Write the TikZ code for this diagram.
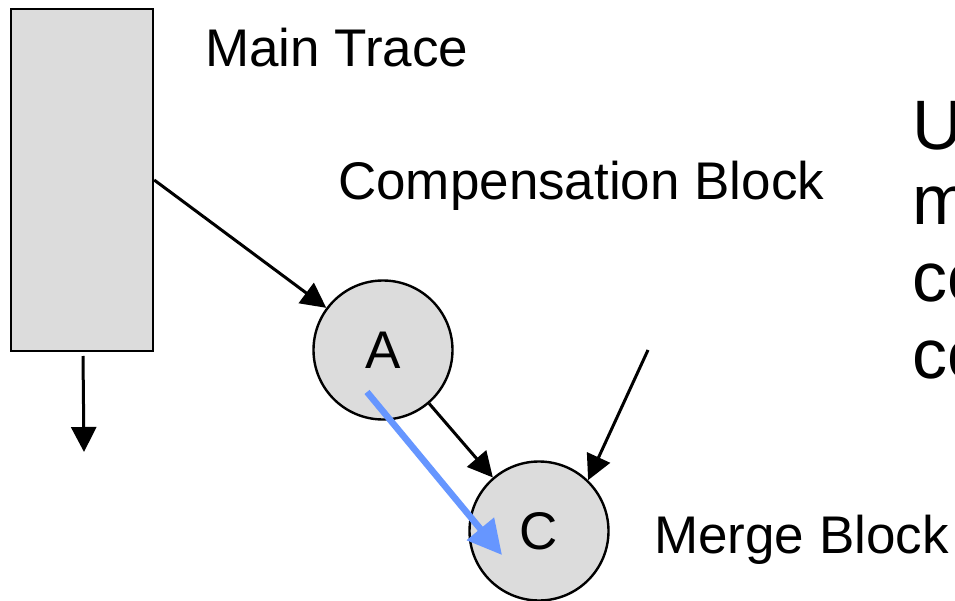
\documentclass[tikz,border=0pt]{standalone}
\usepackage{fontspec}
\setmainfont{Liberation Sans}
\usetikzlibrary{arrows.meta,calc}
\definecolor{boxgray}{RGB}{220,220,220}
\definecolor{blueline}{RGB}{102,150,255}
\begin{document}
\begin{tikzpicture}[x=1pt,y=-1pt,
  grayshape/.style={draw, fill=boxgray, line width=2.4pt, inner sep=0pt},
  circ/.style={grayshape, circle, minimum size=139pt, font=\fontsize{53}{60}\selectfont},
  arr/.style={line width=3pt, -{Triangle[length=25pt,width=25pt]}},
  lbl/.style={font=\fontsize{53}{60}\selectfont, inner sep=0pt, anchor=base west},
  big/.style={font=\fontsize{70}{76}\selectfont, inner sep=0pt, anchor=base west}]
\useasboundingbox (0,0) rectangle (955,601);
\clip (0,0) rectangle (955,601);
\node[grayshape, minimum width=142pt, minimum height=342pt] (trace) at (82,180) {};
\node[circ] (A) at (383,350) {A};
\node[circ] (C) at (539,531) {C};
\node[lbl] (lmain) at (205,67) {Main Trace};
\node[lbl] (lcomp) at (338,200) {Compensation Block};
\node[lbl] (lmerge) at (654,553) {Merge Block};
\node[big] (r1) at (912,150) {U};
\node[big] (r2) at (912,225) {m};
\node[big] (r3) at (912,302) {co};
\node[big] (r4) at (912,378) {co};
\coordinate (d0) at (83,356);
\coordinate (d1) at (84,452);
\coordinate (m) at (648,350);
\coordinate (bs) at (367,392);
\coordinate (be) at (502,555);
\draw[arr] (trace.east) -- (A);
\draw[arr] (d0) -- (d1);
\draw[arr] (A) -- (C);
\draw[arr] (m) -- (C.46);
\draw[line width=6.5pt, blueline, -{Triangle[length=34pt,width=34pt]}] (bs) -- (be);
\end{tikzpicture}
\end{document}
